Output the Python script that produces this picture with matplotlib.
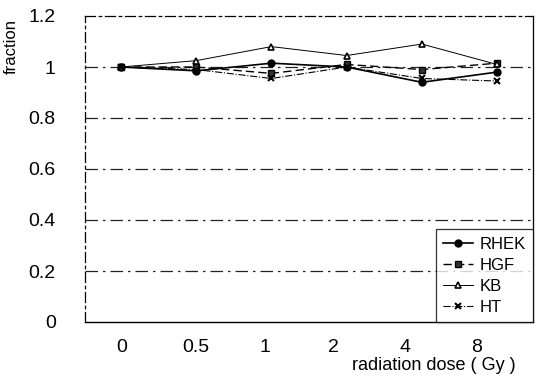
import matplotlib
matplotlib.use("Agg")
import matplotlib.pyplot as plt
import numpy as np

doses = ["0", "0.5", "1", "2", "4", "8"]
rhek = [1.00, 0.985, 1.015, 1.00, 0.94, 0.98]
hgf = [1.00, 1.00, 0.975, 1.01, 0.99, 1.015]
kb = [1.00, 1.025, 1.08, 1.045, 1.09, 1.01]
ht = [1.00, 0.99, 0.955, 1.00, 0.955, 0.945]
yticks = [0, 0.2, 0.4, 0.6, 0.8, 1, 1.2]
ytick_labels = ["0", "0.2", "0.4", "0.6", "0.8", "1", "1.2"]

plt.rcParams['font.family'] = ['Liberation Sans', 'DejaVu Sans']

fig = plt.figure(figsize=(5.36, 3.82), dpi=100)
ax = fig.add_axes([85/536, 1-322/382, 448/536, 306/382])

x = np.arange(len(doses))
ax.plot(x, rhek, '-', color='black', lw=1.2, marker='o', ms=5, mfc='black', mec='black', label='RHEK')
ax.plot(x, hgf, '--', color='black', lw=1.0, marker='s', ms=5, mfc='#333333', mec='black', label='HGF', dashes=(6, 3))
ax.plot(x, kb, '-', color='black', lw=0.7, marker='^', ms=5, mfc='white', mec='black', mew=1.2, label='KB')
ax.plot(x, ht, '-.', color='black', lw=0.8, marker='x', ms=5, mec='black', mew=1.5, label='HT')

ax.set_xlim(-0.479, 5.479)
ax.set_ylim(0, 1.2)

for yv in [0.2, 0.4, 0.6, 0.8, 1.0]:
    ax.axhline(yv, color='#222222', lw=0.9, ls=(0, (10, 4, 2, 4)), zorder=0)

ax.set_yticks(yticks)
ax.set_yticklabels(ytick_labels, fontsize=14)
# tick labels in the scan sit slightly left of their points
xt = [0.013, 1.0, 1.915, 2.82, 3.78, 4.73]
ax.set_xticks(xt)
ax.set_xticklabels(doses, fontsize=14)
ax.tick_params(axis='both', length=0)
ax.tick_params(axis='y', pad=21)
ax.tick_params(axis='x', pad=12)

for s in ['left', 'top']:
    ax.spines[s].set_linestyle((0, (8, 3, 2, 3)))
    ax.spines[s].set_linewidth(0.9)
ax.spines['right'].set_linewidth(0.9)
ax.spines['bottom'].set_linewidth(1.0)

ax.set_ylabel('fraction', fontsize=12)
ax.yaxis.set_label_coords(-0.148, 0.9)
ax.set_xlabel('radiation dose ( Gy )', fontsize=13)
ax.xaxis.set_label_coords(0.779, -0.115)

leg = ax.legend(loc='lower right', bbox_to_anchor=(1.0, 0.0), fontsize=12,
                frameon=True, fancybox=False, borderaxespad=0, handlelength=1.8,
                labelspacing=0.35, borderpad=0.45, handletextpad=0.35)
leg.get_frame().set_edgecolor('black')
leg.get_frame().set_linewidth(0.9)

fig.savefig('out.png', dpi=100)
